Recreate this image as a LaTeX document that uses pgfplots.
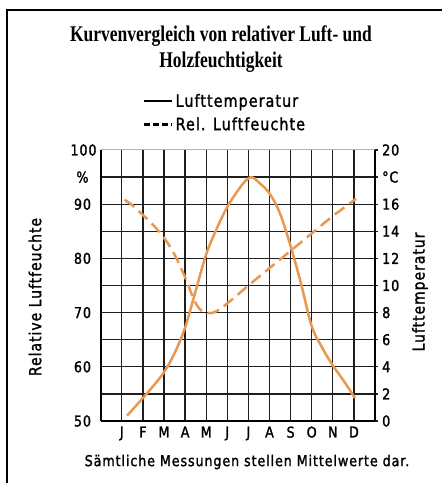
\documentclass[border=0pt]{standalone}
\usepackage{pgfplots}
\pgfplotsset{compat=1.18}
\usepackage{fontspec}
\setmainfont{Liberation Serif}
\newfontfamily\titlefont[FakeStretch=0.78]{Liberation Serif Bold}
\newfontfamily\din[FakeStretch=0.85,LetterSpace=6,FakeBold=1.5]{DejaVu Sans}
\definecolor{curve}{RGB}{232,152,80}
\definecolor{gridc}{RGB}{30,30,30}

\pgfplotstableread{
m T
1.25 0.4
1.6 1.0
2 1.7
2.5 2.6
3 3.6
3.5 5.0
4 6.9
4.5 9.6
5 12.3
5.5 14.2
6 15.8
6.5 17.0
6.85 17.7
7.15 18.0
7.5 17.6
8 16.8
8.5 15.3
9 12.9
9.5 10.1
10 7.0
10.5 5.4
11 4.1
11.5 3.0
12.05 1.7
}\temptable

\pgfplotstableread{
m H
1.13 90.8
1.5 89.8
2 88.0
2.5 86.1
3 83.8
3.5 80.7
4 76.5
4.4 72.6
4.7 70.6
5 70.0
5.4 70.1
6 71.7
7 75.0
8 78.2
9 81.4
10 84.6
11 87.8
12.1 91.0
}\humtable

\begin{document}
\begin{tikzpicture}[x=1bp,y=1bp]
\useasboundingbox (0,0) rectangle (442,483);
\draw[line width=2.5bp, black] (7,0) -- (7,473) -- (442,473);
\node[font=\titlefont\fontsize{22.5}{25}\selectfont] at (221,447) {Kurvenvergleich von relativer Luft- und};
\node[font=\titlefont\fontsize{22.5}{25}\selectfont] at (221,421) {Holzfeuchtigkeit};

\begin{axis}[
  at={(100.7bp,62bp)}, anchor=south west, scale only axis,
  width=274.3bp, height=271bp,
  xmin=0, xmax=13, ymin=50, ymax=100,
  xtick={1,...,12}, xticklabels={J,F,M,A,M,J,J,A,S,O,N,D},
  ytick={50,55,...,95}, yticklabels={50,,60,,70,,80,,90,\%},
  extra y ticks={100}, extra y tick labels={100}, extra y tick style={grid=none},
  grid=major, major grid style={gridc, line width=1.25bp},
  major tick length=0pt,
  axis x line*=bottom, axis y line*=left,
  axis line style={black, line width=2bp, -},
  tick label style={font=\din\fontsize{15}{18}\selectfont, text=black},
  yticklabel style={anchor=east, text width=24bp, align=center, inner sep=0pt, xshift=-6bp},
  xticklabel style={yshift=-2bp},
  clip=false,
]
\draw[gray!60, line width=1bp] (rel axis cs:0,1) -- (rel axis cs:1,1);
\addplot[curve, line width=2.5bp, dash pattern=on 12bp off 6bp, smooth, tension=0.65] table[x=m, y=H] {\humtable};
\end{axis}

\begin{axis}[
  at={(100.7bp,62bp)}, anchor=south west, scale only axis,
  width=274.3bp, height=271bp,
  xmin=0, xmax=13, ymin=0, ymax=20,
  axis y line*=right, axis x line=none,
  ytick={0,2,...,20}, yticklabels={0,2,4,6,8,10,12,14,16,°C,20},
  tick align=outside, major tick length=3bp,
  tick style={gridc, line width=1.25bp},
  axis line style={black, line width=1.5bp, -},
  tick label style={font=\din\fontsize{15}{18}\selectfont, text=black},
  yticklabel style={anchor=west, inner sep=0pt, xshift=4bp},
  legend style={at={(axis description cs:0.154,1.215)}, anchor=north west,
    draw=none, fill=none, font=\din\fontsize{17}{20}\selectfont,
    row sep=5bp, inner sep=0pt},
  legend cell align=left,
  legend image code/.code={\draw[#1] (0bp,0bp) -- (28bp,0bp);},
  clip=false,
]
\addlegendimage{black, line width=2.5bp}
\addlegendentry{Lufttemperatur}
\addlegendimage{black, line width=2.5bp, dash pattern=on 6bp off 3bp}
\addlegendentry{Rel. Luftfeuchte}
\addplot[curve, line width=2.5bp, smooth, tension=0.6, forget plot] table[x=m, y=T] {\temptable};
\end{axis}

\node[rotate=90, font=\din\fontsize{16.5}{19}\selectfont] at (35,186) {Relative Luftfeuchte};
\node[rotate=90, font=\din\fontsize{16.5}{19}\selectfont] at (420,191) {Lufttemperatur};
\node[font=\din\fontsize{15}{18}\selectfont] at (247,21) {Sämtliche Messungen stellen Mittelwerte dar.};
\end{tikzpicture}
\end{document}
